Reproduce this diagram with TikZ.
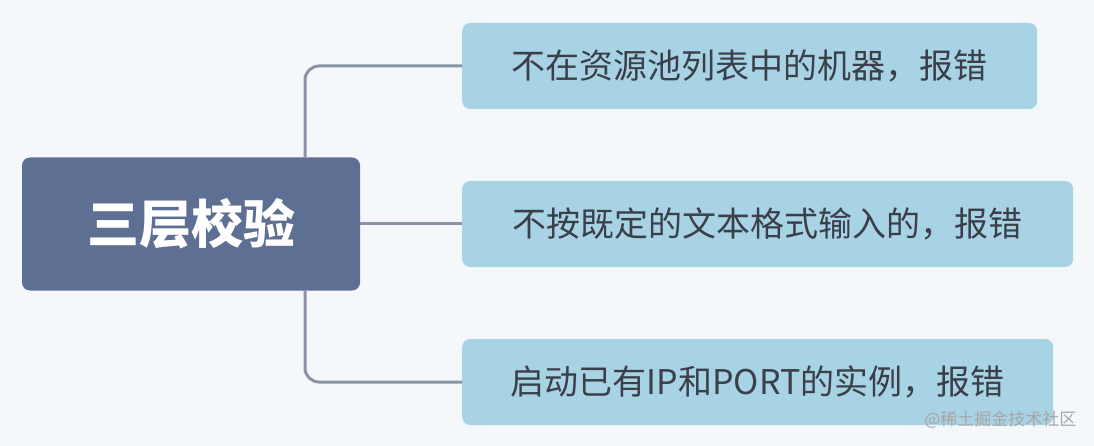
\documentclass[tikz,border=0pt]{standalone}
\usepackage{fontspec}
\setmainfont{Noto Sans CJK SC}
\definecolor{bg}{HTML}{F5F8FB}
\definecolor{rootc}{HTML}{5D6F93}
\definecolor{childc}{HTML}{A8D3E4}
\definecolor{linec}{HTML}{8A94A6}
\definecolor{txt}{HTML}{3A3F4A}
\tikzset{
  rootbox/.style={fill=rootc, rounded corners=8pt, minimum width=338pt, minimum height=133pt, text=white, font=\fontsize{52}{60}\selectfont\bfseries},
  childbox/.style={fill=childc, rounded corners=8pt, minimum height=86pt, anchor=west, text=txt, font=\fontsize{34}{40}\selectfont},
  conn/.style={draw=linec, line width=3pt, rounded corners=14pt}
}
\begin{document}
\begin{tikzpicture}[x=1pt,y=-1pt]
\fill[bg] (0,0) rectangle (1094,446);
\useasboundingbox (0,0) rectangle (1094,446);
\node[rootbox] (root) at (191,224) {三层校验};
\node[childbox, minimum width=575pt] (c1) at (462,66) {不在资源池列表中的机器，报错};
\node[childbox, minimum width=611pt] (c2) at (462,224) {不按既定的文本格式输入的，报错};
\node[childbox, minimum width=591pt] (c3) at (462,382) {启动已有IP和PORT的实例，报错};
\coordinate (j) at (305,224);
\draw[conn] (root.north -| j) |- (c1.west);
\draw[conn] (root.south -| j) |- (c3.west);
\draw[conn] (root.east) -- (c2.west);
\node[anchor=south east, text=gray!70, font=\fontsize{17}{20}\selectfont] (wm) at (1080,432) {@稀土掘金技术社区};
\end{tikzpicture}
\end{document}
